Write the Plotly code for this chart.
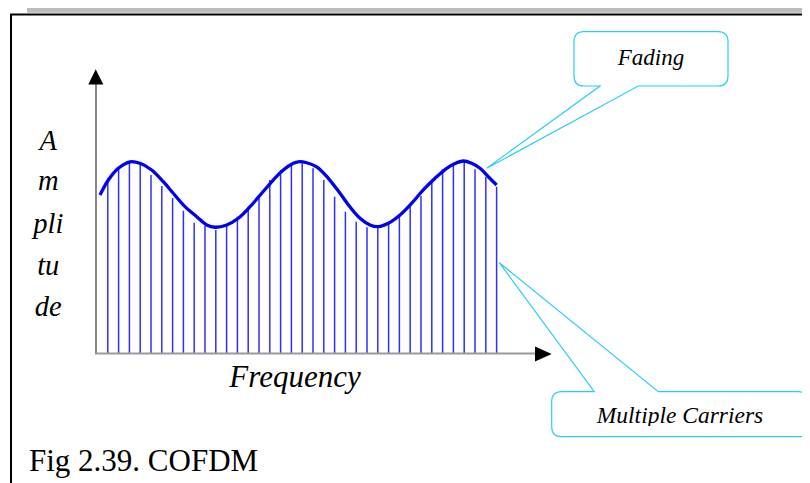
import plotly.graph_objects as go

# --- datos ---
# subportadoras (indice de frecuencia) y su amplitud
carrier_freq = list(range(1, 38))
carrier_amp = [0.911, 0.962, 0.995, 0.990, 0.927, 0.870, 0.807, 0.741, 0.679, 0.661,
               0.640, 0.667, 0.710, 0.762, 0.818, 0.901, 0.953, 0.988, 0.988, 0.962,
               0.901, 0.814, 0.736, 0.684, 0.655, 0.655, 0.676, 0.719, 0.762, 0.818,
               0.901, 0.957, 0.991, 0.996, 0.957, 0.918, 0.866]

# envolvente de desvanecimiento (fading)
fade_freq = [0.28, 1.05, 1.97, 3.06, 3.98, 5.06, 6.14, 7.06, 8.15, 9.23, 10.16, 10.93,
             12.01, 13.08, 14.17, 15.25, 16.32, 17.25, 18.18, 18.64, 19.42, 20.34,
             21.42, 22.5, 23.41, 24.35, 25.28, 26.05, 26.97, 28.06, 29.14, 30.21,
             31.30, 32.38, 33.31, 33.92, 34.69, 35.46, 36.23, 37.0]
fade_amp = [0.823, 0.901, 0.962, 0.996, 0.988, 0.953, 0.892, 0.832, 0.762, 0.710, 0.667,
            0.655, 0.667, 0.702, 0.762, 0.832, 0.901, 0.953, 0.988, 0.996, 0.991, 0.970,
            0.910, 0.832, 0.762, 0.702, 0.667, 0.658, 0.676, 0.719, 0.780, 0.849,
            0.910, 0.962, 0.991, 1.0, 0.988, 0.962, 0.918, 0.875]

amp_label = ["A", "m", "pli", "tu", "de"]
freq_label = "Frequency"
fading_label = "Fading"
carriers_label = "Multiple Carriers"
caption = "Fig 2.39. COFDM"

# la pagina html tiene 8px de margen: la figura ocupa lo que queda de la ventana
OFF = 8
W, H = 810 - OFF, 483 - OFF
SERIF = "Liberation Serif, Times New Roman, serif"
CYAN = "#2ccdf5"

# lineas verticales de cada subportadora
cx, cy = [], []
for f, a in zip(carrier_freq, carrier_amp):
    cx += [f, f, None]
    cy += [0, a, None]

fig = go.Figure()
fig.add_trace(go.Scatter(x=cx, y=cy, mode="lines",
                         line=dict(color="rgba(0,0,255,0.82)", width=1.5),
                         hoverinfo="skip"))
fig.add_trace(go.Scatter(x=fade_freq, y=fade_amp, mode="lines",
                         line=dict(color="#0000ee", width=3.3, shape="spline"),
                         hoverinfo="skip"))


def txt(x, y, s, size, italic=True, pos="middle center"):
    fig.add_trace(go.Scatter(x=[x], y=[y], text=[s], mode="text", xaxis="x2", yaxis="y2",
                             textposition=pos, hoverinfo="skip",
                             textfont=dict(family=SERIF, size=size, color="black",
                                           style="italic" if italic else "normal")))


# etiquetas (ejes en pixeles de la pagina, x2/y2)
for lab, yb in zip(amp_label, [142.5, 182.5, 225.5, 267.5, 308.5]):
    txt(48.3, yb, lab, 28.5)
txt(295, 379, freq_label, 31)
txt(651, 59.5, fading_label, 23)
txt(680, 417.5, carriers_label, 23.5)
txt(29, 463, caption, 31, italic=False, pos="middle right")


def callout(x0, y0, x1, y1, r, side, pa, pb, tip):
    # caja redondeada con pico hacia el punto "tip"
    tx, ty = tip
    if side == "bottom":
        return (f"M {x0+r},{y0} L {x1-r},{y0} Q {x1},{y0} {x1},{y0+r} L {x1},{y1-r} "
                f"Q {x1},{y1} {x1-r},{y1} L {pb},{y1} L {tx},{ty} L {pa},{y1} "
                f"L {x0+r},{y1} Q {x0},{y1} {x0},{y1-r} L {x0},{y0+r} Q {x0},{y0} {x0+r},{y0} Z")
    return (f"M {x0+r},{y0} L {pa},{y0} L {tx},{ty} L {pb},{y0} L {x1-r},{y0} "
            f"Q {x1},{y0} {x1},{y0+r} L {x1},{y1-r} Q {x1},{y1} {x1-r},{y1} "
            f"L {x0+r},{y1} Q {x0},{y1} {x0},{y1-r} L {x0},{y0+r} Q {x0},{y0} {x0+r},{y0} Z")


shapes = [
    # banda gris y marco negro
    dict(type="rect", x0=27, x1=820, y0=0, y1=12.7, fillcolor="#bdbdbd", line_width=0),
    dict(type="path", path="M 11,490 L 11,14.5 L 820,14.5", line=dict(color="black", width=2)),
    # ejes con flechas
    dict(type="line", x0=96, x1=96, y0=353, y1=82, line=dict(color="#444", width=1.3)),
    dict(type="path", path="M 95.7,69.3 L 88.3,84.5 L 103.3,84.5 Z", fillcolor="black", line_width=0),
    dict(type="line", x0=95, x1=537, y0=353.5, y1=353.5, line=dict(color="#999", width=2)),
    dict(type="path", path="M 551.7,354 L 535,346.5 L 535,361.5 Z", fillcolor="black", line_width=0),
    # ocultar parte inferior del texto "Multiple Carriers" (como en el original)
    dict(type="rect", x0=556, x1=806, y0=426, y1=435.5, fillcolor="white", line_width=0),
    # globos
    dict(type="path", path=callout(574, 31.7, 728, 86, 10, "bottom", 600, 638.3, (486.7, 168.3)),
         line=dict(color=CYAN, width=1.2)),
    dict(type="path", path=callout(551.7, 391.7, 808.3, 436.7, 10, "top", 594.3, 658.3, (499.3, 262.7)),
         line=dict(color=CYAN, width=1.2)),
]
for s in shapes:
    s.update(xref="x2", yref="y2", layer="above")

# origen del grafico en la pagina: x=97px (f=0), y=353px (a=0); 10.8 px por portadora, 192 px por unidad
fig.update_layout(
    width=W, height=H,
    margin=dict(l=0, r=0, t=0, b=0),
    paper_bgcolor="white", plot_bgcolor="white",
    showlegend=False, hovermode=False,
    xaxis=dict(range=[-(97 - OFF) / 10.8, (W - 97 + OFF) / 10.8], visible=False, fixedrange=True),
    yaxis=dict(range=[(353 - OFF - H) / 192, (353 - OFF) / 192], visible=False, fixedrange=True),
    xaxis2=dict(range=[OFF, OFF + W], overlaying="x", visible=False, fixedrange=True),
    yaxis2=dict(range=[OFF + H, OFF], overlaying="y", visible=False, fixedrange=True),
    shapes=shapes,
)

fig.write_html("out.html")
